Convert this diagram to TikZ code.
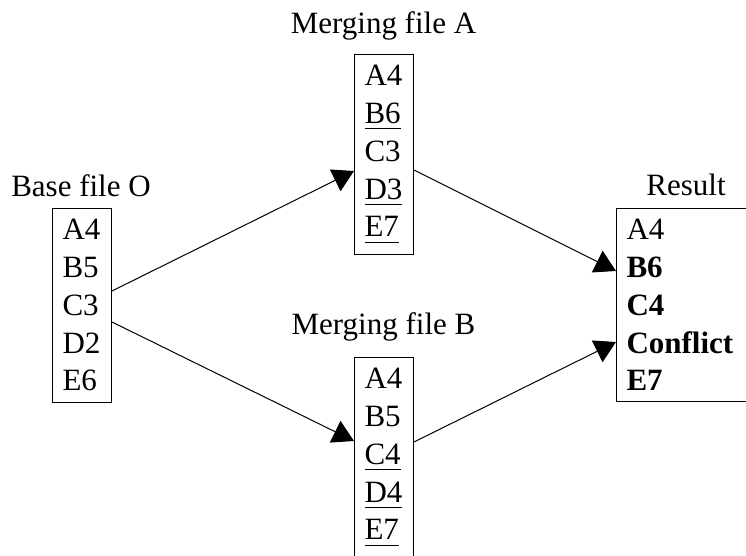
\documentclass[tikz,border=0pt]{standalone}
\usepackage{fontspec}
\setmainfont{Liberation Serif}
\usetikzlibrary{arrows.meta}
\newcommand{\lowul}[1]{\underline{#1\rule[-1.2pt]{0pt}{1pt}}}
\begin{document}
\begin{tikzpicture}[x=0.5pt,y=-0.5pt,
  filebox/.style={draw, line width=0.5pt, anchor=north west, inner xsep=5pt, inner ysep=5.5pt, text width=19.5pt, align=left, font=\fontsize{15.5}{18.85}\selectfont},
  title/.style={anchor=base, inner sep=0pt, font=\fontsize{15.5}{18.85}\selectfont},
  conn/.style={line width=0.5pt, -{Triangle[length=10.5pt,width=12pt]}}]
\useasboundingbox (0,0) rectangle (746,556);
\node[title] (tO) at (81,197) {Base file O};
\node[title] (tA) at (383.5,33.5) {Merging file A};
\node[title] (tB) at (383.5,335) {Merging file B};
\node[title] (tR) at (686,196) {Result};
\node[filebox] (O) at (52,208) {A4\\B5\\C3\\D2\\E6};
\node[filebox] (A) at (354,54) {A4\\\lowul{B6}\\C3\\\lowul{D3}\\\lowul{E7}};
\node[filebox] (B) at (354,357) {A4\\B5\\\lowul{C4}\\\lowul{D4}\\\lowul{E7}\rule[-6pt]{0pt}{1pt}};
\node[filebox, text width=90pt] (R) at (616,208) {A4\\\textbf{B6}\\\textbf{C4}\\\textbf{Conflict}\\\textbf{E7}};
\draw[conn] ([yshift=-41.5pt]O.north east) -- ([yshift=-58.5pt]A.north west);
\draw[conn] ([yshift=-57pt]O.north east) -- ([yshift=-42pt]B.north west);
\draw[conn] ([yshift=-58pt]A.north east) -- ([yshift=-31.5pt]R.north west);
\draw[conn] ([yshift=-42.5pt]B.north east) -- ([yshift=-67pt]R.north west);
\end{tikzpicture}
\end{document}
